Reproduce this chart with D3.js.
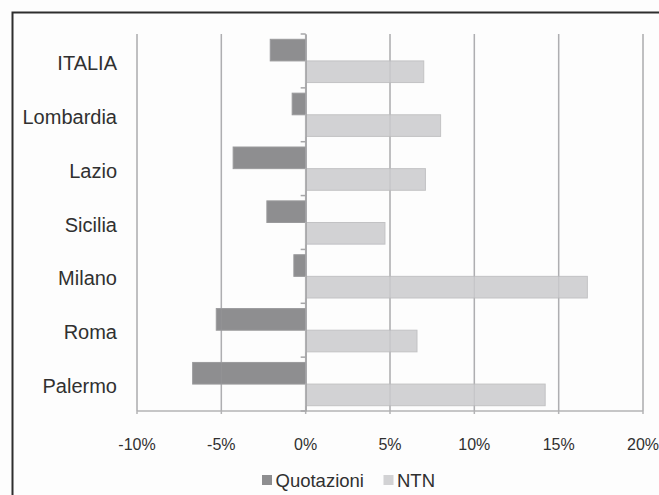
<!DOCTYPE html>
<html>
<head>
<meta charset="utf-8">
<script src="https://cdn.jsdelivr.net/npm/d3@7"></script>
<style>
  html, body { margin: 0; padding: 0; background: #fdfdfd; }
  svg { display: block; font-family: "Liberation Sans", Arial, sans-serif; }
</style>
</head>
<body>
<svg id="chart" width="659" height="495"></svg>
<script>
// Variazioni percentuali: quotazioni e numero di transazioni normalizzate (NTN)
const categories = ["ITALIA", "Lombardia", "Lazio", "Sicilia", "Milano", "Roma", "Palermo"];
const quotazioni = [-2.1, -0.8, -4.3, -2.3, -0.7, -5.3, -6.7];
const ntn = [7.0, 8.0, 7.1, 4.7, 16.7, 6.6, 14.2];
const seriesNames = ["Quotazioni", "NTN"];
const seriesColors = ["#8e8e90", "#d2d2d4"];
const seriesStrokes = ["#9a9a9c", "#c2c2c4"];
const tickValues = [-10, -5, 0, 5, 10, 15, 20];
const tickLabels = ["-10%", "-5%", "0%", "5%", "10%", "15%", "20%"];

const svg = d3.select("#chart");

// outer frame (runs past the right and bottom edges)
svg.append("rect")
  .attr("x", 12.5).attr("y", 12.5)
  .attr("width", 700).attr("height", 600)
  .attr("fill", "#fdfdfd")
  .attr("stroke", "#2e2e2e").attr("stroke-width", 2);

const plot = { left: 137, right: 643, top: 34, bottom: 411 };

const x = d3.scaleLinear().domain([-10, 20]).range([plot.left, plot.right]);
const y = d3.scaleBand().domain(categories).range([plot.top, plot.bottom]).padding(0);
const ySub = d3.scaleBand().domain(seriesNames).range([0, y.bandwidth()])
  .paddingInner(0).paddingOuter(0.245);

const rows = categories.map((c, i) => ({ cat: c, values: [quotazioni[i], ntn[i]] }));

// vertical gridlines
svg.append("g").selectAll("line")
  .data(tickValues)
  .join("line")
  .attr("x1", d => x(d)).attr("x2", d => x(d))
  .attr("y1", plot.top).attr("y2", plot.bottom + 3)
  .attr("stroke", "#b3b3b5").attr("stroke-width", 1.5);

// bottom axis line
svg.append("line")
  .attr("x1", plot.left).attr("x2", plot.right)
  .attr("y1", plot.bottom).attr("y2", plot.bottom)
  .attr("stroke", "#b3b3b5").attr("stroke-width", 1.5);

// bars
const groups = svg.append("g").selectAll("g")
  .data(rows)
  .join("g")
  .attr("transform", d => `translate(0,${y(d.cat)})`);

groups.selectAll("rect")
  .data(d => d.values.map((v, k) => ({ v, k })))
  .join("rect")
  .attr("x", d => x(Math.min(0, d.v)))
  .attr("width", d => Math.abs(x(d.v) - x(0)))
  .attr("y", d => ySub(seriesNames[d.k]))
  .attr("height", ySub.bandwidth())
  .attr("fill", d => seriesColors[d.k])
  .attr("stroke", d => seriesStrokes[d.k])
  .attr("stroke-width", 1);

// faint gridlines visible through the bars
svg.append("g").selectAll("line")
  .data(tickValues.filter(d => d !== 0))
  .join("line")
  .attr("x1", d => x(d)).attr("x2", d => x(d))
  .attr("y1", plot.top).attr("y2", plot.bottom)
  .attr("stroke", "#a0a0a2").attr("stroke-width", 1.2).attr("stroke-opacity", 0.25);

// zero axis with category ticks
const yAxis = d3.axisLeft(y).tickSize(0).tickFormat("");
svg.append("g")
  .attr("transform", `translate(${x(0)},0)`)
  .call(yAxis)
  .call(g => g.select(".domain").attr("stroke", "#a6a6a8").attr("stroke-width", 1.5));
svg.append("g").selectAll("line")
  .data(categories.concat(["__end"]))
  .join("line")
  .attr("x1", x(0) - 5).attr("x2", x(0))
  .attr("y1", (d, i) => plot.top + i * y.step())
  .attr("y2", (d, i) => plot.top + i * y.step())
  .attr("stroke", "#a6a6a8").attr("stroke-width", 1.5);

// category labels
svg.append("g").selectAll("text")
  .data(categories)
  .join("text")
  .attr("x", 117)
  .attr("y", d => y(d) + y.bandwidth() / 2 + 9)
  .attr("text-anchor", "end")
  .attr("font-size", 20)
  .attr("fill", "#303030")
  .text(d => d);

// x tick labels
svg.append("g").selectAll("text")
  .data(tickValues)
  .join("text")
  .attr("x", d => x(d))
  .attr("y", 450)
  .attr("text-anchor", "middle")
  .attr("font-size", 16)
  .attr("fill", "#303030")
  .text((d, i) => tickLabels[i]);

// legend
const legendX = [262, 383.5];
const legend = svg.append("g").selectAll("g")
  .data(seriesNames)
  .join("g")
  .attr("transform", (d, i) => `translate(${legendX[i]},475)`);
legend.append("rect")
  .attr("width", 10).attr("height", 10)
  .attr("fill", (d, i) => seriesColors[i]);
legend.append("text")
  .attr("x", 13.5).attr("y", 11.5)
  .attr("font-size", 18.5)
  .attr("fill", "#303030")
  .text(d => d);
</script>
</body>
</html>
